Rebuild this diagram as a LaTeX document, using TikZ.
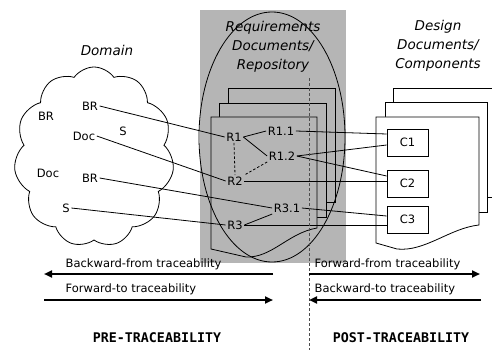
\documentclass[tikz,border=0pt]{standalone}
\usepackage{fontspec}
\setmainfont{DejaVu Sans}
\setmonofont{DejaVu Sans Mono}
\usetikzlibrary{arrows.meta, positioning, calc, shapes.symbols}
\definecolor{RepoGray}{rgb}{0.71, 0.71, 0.71}

\begin{document}
\begin{tikzpicture}[x=1pt, y=-1pt,
    lbl/.style={inner sep=1.5pt, font=\fontsize{11.5}{14}\selectfont},
    hdr/.style={align=center, font=\fontsize{13.5}{19}\selectfont\itshape},
    docpage/.style={draw, line width=0.8pt},
    comp/.style={draw, line width=0.8pt, fill=white, minimum width=41pt, minimum height=27pt,
        inner sep=0pt, font=\fontsize{11.5}{14}\selectfont},
    link/.style={line width=0.8pt},
    arr/.style={line width=2pt, -{Triangle[length=8pt, width=7pt]}},
    phase/.style={font=\fontsize{13.3}{16}\selectfont\ttfamily\bfseries},
]
\useasboundingbox (0,0) rectangle (492,350);

% repositorio
\fill[RepoGray] (200,10) rectangle (346,263);
\draw[docpage, fill=RepoGray] (228,88) rectangle (335,202);
\draw[docpage, fill=RepoGray] (219,103) rectangle (326,217);
\draw[docpage, fill=RepoGray] (211,117) -- (317,117) -- (317,228)
    .. controls (288,233) and (272,258) .. (246,257) -- (211,249) -- cycle;
\draw[line width=0.8pt] (272,137) ellipse [x radius=73, y radius=125];

% documentos de diseno
\draw[docpage] (393,197) -- (393,88) -- (492,88);
\draw[docpage] (487,197) -- (492,197);
\draw[docpage, fill=white] (385,102) rectangle (487,212);
\draw[docpage, fill=white] (376,117) -- (479,117) -- (479,225)
    .. controls (450,228) and (425,252) .. (397,249) -- (376,243) -- cycle;

% titulos
\node[hdr] (domhdr) at (107,50) {Domain};
\node[hdr] (reqhdr) at (273,47) {Requirements\\Documents/\\Repository};
\node[hdr] (deshdr) at (438,46) {Design\\Documents/\\Components};

% dominio
\node[cloud, draw, line width=0.8pt, cloud puffs=11, cloud puff arc=110, aspect=0.9,
      minimum width=160pt, minimum height=180pt] (cloud) at (94,157) {};
\node[lbl] (br0) at (46,116) {BR};
\node[lbl] (br1) at (90,106) {BR};
\node[lbl] (s1) at (123,131) {S};
\node[lbl] (doc1) at (84,136) {Doc};
\node[lbl] (doc2) at (48,173) {Doc};
\node[lbl] (br2) at (90,178) {BR};
\node[lbl] (s2) at (66,208) {S};

% requisitos
\node[lbl] (r1) at (234,137) {R1};
\node[lbl] (r11) at (281,131) {R1.1};
\node[lbl] (r12) at (282,156) {R1.2};
\node[lbl] (r2) at (235,181) {R2};
\node[lbl] (r31) at (287,208) {R3.1};
\node[lbl] (r3) at (235,225) {R3};

% componentes
\node[comp] (c1) at (407.5,142.5) {C1};
\node[comp] (c2) at (407.5,183.5) {C2};
\node[comp] (c3) at (407.5,219.5) {C3};

% enlaces
\draw[link] (br1.east) -- (r1.west);
\draw[link] (doc1.east) -- (r2.west);
\draw[link] (br2.east) -- (r31.west);
\draw[link] (s2.east) -- (r3.west);
\draw[link] (r1.east) -- (r11.west);
\draw[link] (r1.east) -- (r12.west);
\draw[link, dash pattern=on 2.5pt off 2pt] (r1.south) -- (r2.north);
\draw[link, dash pattern=on 2.5pt off 2pt] (r12.south west) -- (r2.north east);
\draw[link] (r3.east) -- (r31.south west);
\draw[link] (r11.east) -- ($(c1.west)+(0,-8.5)$);
\draw[link] (r12.east) -- ($(c1.west)+(0,2.5)$);
\draw[link] (r12.east) -- ($(c2.west)+(0,-7.5)$);
\draw[link] (r2.east) -- (r2.east -| c2.west);
\draw[link] (r31.east) -- ($(c3.west)+(0,-3.5)$);
\draw[link] (r3.east) -- (r3.east -| c3.west);

% division pre/post
\coordinate (divtop) at (309,78);
\coordinate (divbot) at (309,350);
\draw[line width=0.6pt, dash pattern=on 3pt off 2pt, black!70] (divtop) -- (divbot);

% trazabilidad
\node[lbl, anchor=west] (bwdfrom) at (64,264) {Backward-from traceability};
\node[lbl, anchor=west] (fwdto) at (64,289) {Forward-to traceability};
\node[lbl, anchor=west] (fwdfrom) at (313,264) {Forward-from traceability};
\node[lbl, anchor=west] (bwdto) at (313,289) {Backward-to traceability};
\coordinate (pl1) at (44,274);  \coordinate (pr1) at (273,274);
\coordinate (pl2) at (44,300);  \coordinate (pr2) at (273,300);
\coordinate (ql1) at (309,274); \coordinate (qr1) at (480,274);
\coordinate (ql2) at (309,300); \coordinate (qr2) at (481,300);
\draw[arr] (pr1) -- (pl1);
\draw[arr] (pl2) -- (pr2);
\draw[arr] (ql1) -- (qr1);
\draw[arr] (qr2) -- (ql2);

\node[phase] (pre) at (157,338) {PRE-TRACEABILITY};
\node[phase] (post) at (401,338) {POST-TRACEABILITY};

\end{tikzpicture}
\end{document}
